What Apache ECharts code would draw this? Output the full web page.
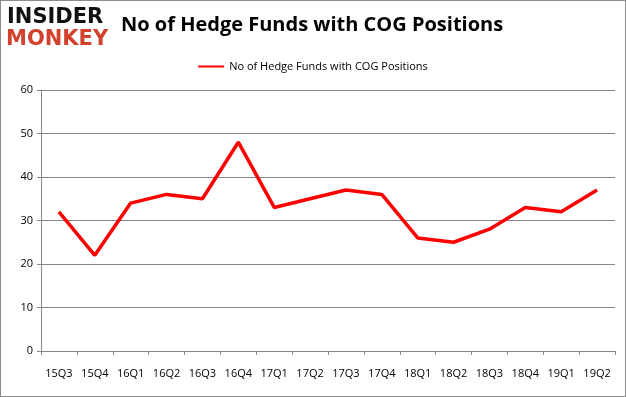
<!DOCTYPE html>
<html>
<head>
<meta charset="utf-8">
<script src="https://cdn.jsdelivr.net/npm/echarts@6/dist/echarts.min.js"></script>
<style>
  html, body { margin: 0; padding: 0; background: #fff; }
  #chart { width: 624px; height: 395px; border: 1px solid #8c8c8c; }
</style>
</head>
<body>
<div id="chart"></div>
<script>
// 数据
const quarters = ['15Q3', '15Q4', '16Q1', '16Q2', '16Q3', '16Q4', '17Q1', '17Q2',
  '17Q3', '17Q4', '18Q1', '18Q2', '18Q3', '18Q4', '19Q1', '19Q2']
const hedgeFunds = [32, 22, 34, 36, 35, 48, 33, 35, 37, 36, 26, 25, 28, 33, 32, 37]
const seriesName = 'No of Hedge Funds with COG Positions'

const chart = echarts.init(document.getElementById('chart'))

chart.setOption({
  animation: false,
  title: {
    text: 'No of Hedge Funds with COG Positions',
    left: 115,
    top: 9,
    textStyle: { fontFamily: 'Open Sans', fontWeight: 'bold', fontSize: 20, color: '#000' }
  },
  // logo 用文字画
  graphic: [
    {
      type: 'text', left: 6, top: 6,
      style: { text: 'INSIDER', fontFamily: 'DejaVu Sans', fontWeight: 'bold', fontSize: 21, fill: '#111', letterSpacing: 1 }
    },
    {
      type: 'text', left: 5, top: 28,
      style: { text: 'MONKEY', fontFamily: 'DejaVu Sans', fontWeight: 'bold', fontSize: 21, fill: '#d2412b', letterSpacing: 1 }
    }
  ],
  legend: {
    top: 55,
    left: 'center',
    icon: 'rect',
    itemWidth: 26,
    itemHeight: 2,
    itemGap: 4,
    textStyle: { fontFamily: 'Open Sans', fontSize: 11, color: '#000' },
    data: [seriesName]
  },
  grid: { left: 40, right: 10, top: 89, bottom: 45 },
  xAxis: {
    type: 'category',
    data: quarters,
    boundaryGap: true,
    axisLine: { lineStyle: { color: '#868686' } },
    axisTick: { show: true, alignWithLabel: false, length: 4, lineStyle: { color: '#868686' } },
    axisLabel: { color: '#000', fontFamily: 'Open Sans', fontSize: 11, margin: 17, interval: 0 }
  },
  yAxis: {
    type: 'value',
    min: 0,
    max: 60,
    interval: 10,
    axisLine: { show: true, lineStyle: { color: '#868686' } },
    axisTick: { show: true, length: 4, inside: false, lineStyle: { color: '#868686' } },
    axisLabel: { color: '#000', fontFamily: 'Open Sans', fontSize: 11, margin: 8 },
    splitLine: { lineStyle: { color: '#868686' } }
  },
  series: [{
    name: seriesName,
    type: 'line',
    data: hedgeFunds,
    symbol: 'none',
    lineStyle: { color: '#ff0000', width: 3.5 },
    itemStyle: { color: '#ff0000' }
  }]
})
</script>
</body>
</html>
